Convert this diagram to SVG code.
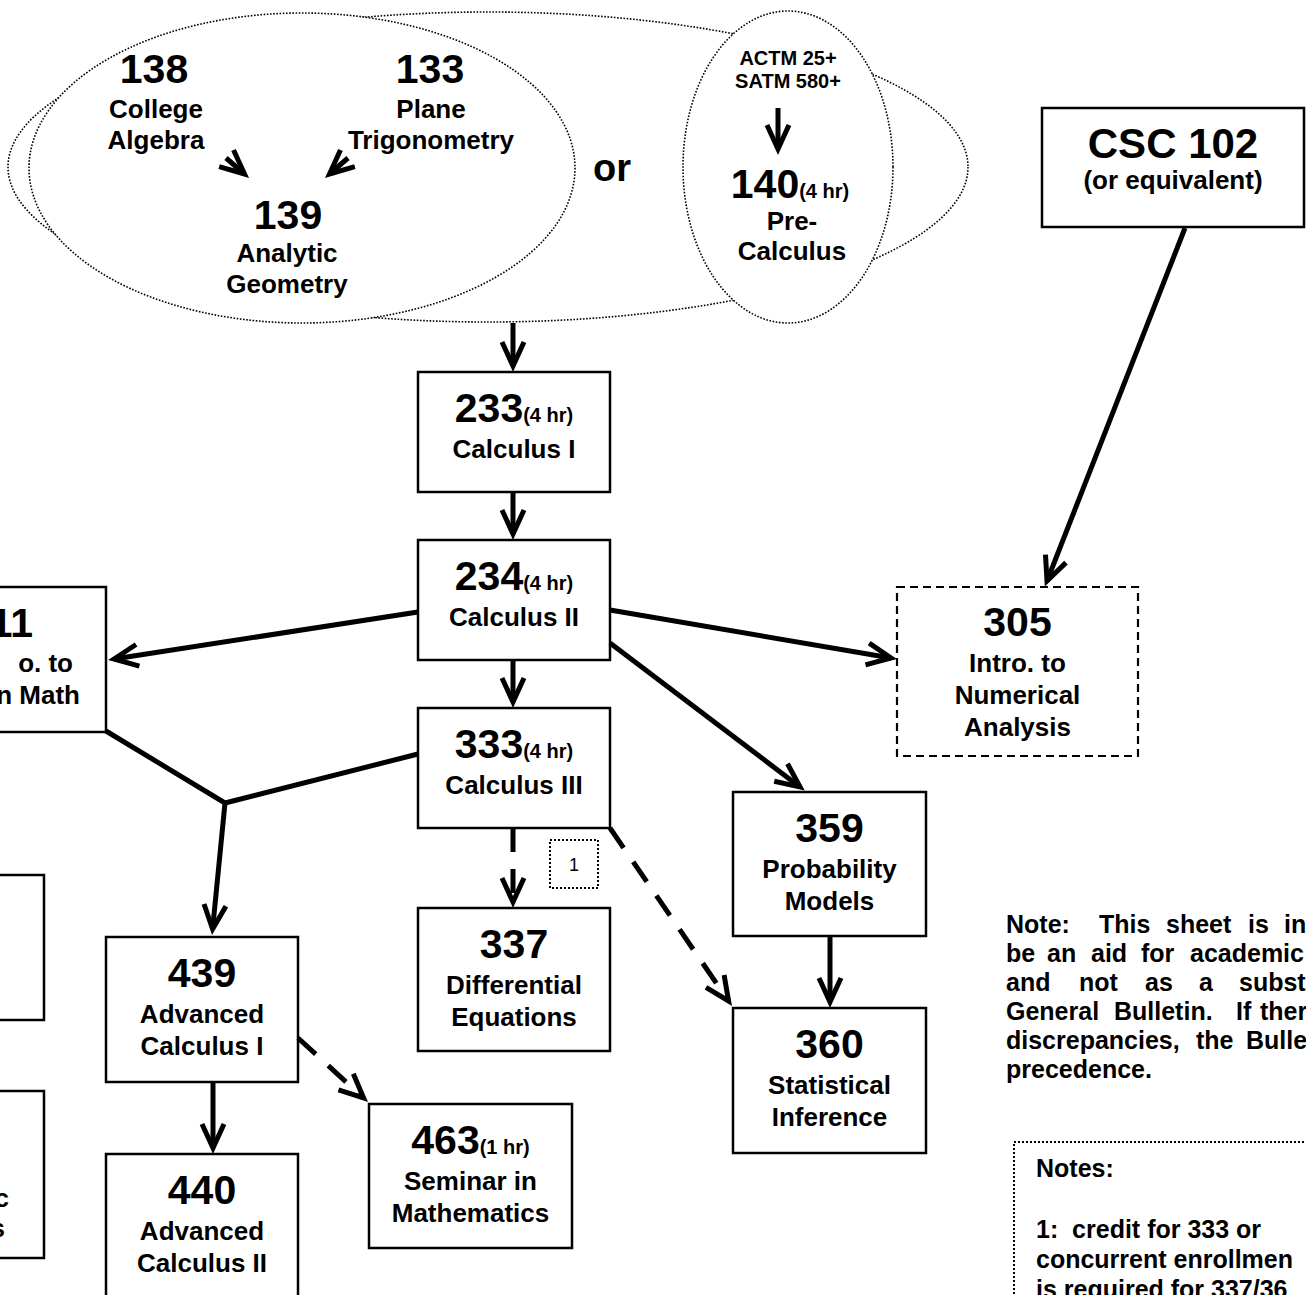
<svg xmlns="http://www.w3.org/2000/svg" width="1306" height="1295" viewBox="0 0 1306 1295">
<style>
.box{fill:#fff;stroke:#000;stroke-width:2.5}
.dbox{fill:#fff;stroke:#000;stroke-width:2.2;stroke-dasharray:8 5}
.dot{fill:none;stroke:#000;stroke-width:2;stroke-dasharray:2 2}
.ell{stroke:#000;stroke-width:1.6;stroke-dasharray:1.6 1.6}
.con{fill:none;stroke:#000;stroke-width:5}
.dash{stroke-dasharray:24 17}
text{font-family:"Liberation Sans",Arial,sans-serif;font-weight:bold;fill:#000}
.c{text-anchor:middle}
.n{font-size:41px}
.h{font-size:20px}
.l{font-size:26px}
.s{font-size:20px}
.nt{font-size:25px;white-space:pre}
</style>
<defs>
<marker id="ah" markerUnits="userSpaceOnUse" orient="auto" refX="0" refY="0" markerWidth="40" markerHeight="40" overflow="visible">
<path d="M-24,-11 L0,0 L-24,11" fill="none" stroke="#000" stroke-width="5" stroke-linejoin="miter" stroke-dasharray="none"/>
</marker>
</defs>
<rect width="1306" height="1295" fill="#fff"/>

<g id="prereq-group">
<ellipse class="ell" cx="488" cy="167" rx="480" ry="155" fill="none"/>
<ellipse class="ell" cx="302" cy="168" rx="273" ry="155" fill="#fff"/>
<ellipse class="ell" cx="788" cy="167" rx="105" ry="156" fill="#fff"/>
</g>

<g id="n138"><text class="c n" x="154" y="83">138</text><text class="c l" x="156" y="118">College</text><text class="c l" x="156" y="149">Algebra</text></g>
<g id="n133"><text class="c n" x="430" y="83">133</text><text class="c l" x="431" y="118">Plane</text><text class="c l" x="431" y="149">Trigonometry</text></g>
<g id="n139"><text class="c n" x="288" y="229">139</text><text class="c l" x="287" y="262">Analytic</text><text class="c l" x="287" y="293">Geometry</text></g>
<g id="or"><text class="c" style="font-size:38px" x="612" y="181">or</text></g>
<g id="n140"><text class="c s" x="788" y="65">ACTM 25+</text><text class="c s" x="788" y="88">SATM 580+</text>
<text class="c" x="790" y="198"><tspan class="n">140</tspan><tspan class="h">(4 hr)</tspan></text>
<text class="c l" x="792" y="230">Pre-</text><text class="c l" x="792" y="260">Calculus</text></g>

<g id="n233"><rect class="box" x="418" y="372" width="192" height="120"/><text class="c" x="514" y="422"><tspan class="n">233</tspan><tspan class="h">(4 hr)</tspan></text><text class="c l" x="514" y="458">Calculus I</text></g>
<g id="n234"><rect class="box" x="418" y="540" width="192" height="120"/><text class="c" x="514" y="590"><tspan class="n">234</tspan><tspan class="h">(4 hr)</tspan></text><text class="c l" x="514" y="626">Calculus II</text></g>
<g id="n333"><rect class="box" x="418" y="708" width="192" height="120"/><text class="c" x="514" y="758"><tspan class="n">333</tspan><tspan class="h">(4 hr)</tspan></text><text class="c l" x="514" y="794">Calculus III</text></g>
<g id="n337"><rect class="box" x="418" y="908" width="192" height="143"/><text class="c n" x="514" y="958">337</text><text class="c l" x="514" y="994">Differential</text><text class="c l" x="514" y="1026">Equations</text></g>
<g id="n359"><rect class="box" x="733" y="792" width="193" height="144"/><text class="c n" x="829.5" y="842">359</text><text class="c l" x="829.5" y="878">Probability</text><text class="c l" x="829.5" y="910">Models</text></g>
<g id="n360"><rect class="box" x="733" y="1008" width="193" height="145"/><text class="c n" x="829.5" y="1058">360</text><text class="c l" x="829.5" y="1094">Statistical</text><text class="c l" x="829.5" y="1126">Inference</text></g>
<g id="n305"><rect class="dbox" x="897" y="587" width="241" height="169"/><text class="c n" x="1017.5" y="636">305</text><text class="c l" x="1017.5" y="672">Intro. to</text><text class="c l" x="1017.5" y="704">Numerical</text><text class="c l" x="1017.5" y="736">Analysis</text></g>
<g id="n439"><rect class="box" x="106" y="937" width="192" height="145"/><text class="c n" x="202" y="987">439</text><text class="c l" x="202" y="1023">Advanced</text><text class="c l" x="202" y="1055">Calculus I</text></g>
<g id="n440"><rect class="box" x="106" y="1154" width="192" height="170"/><text class="c n" x="202" y="1204">440</text><text class="c l" x="202" y="1240">Advanced</text><text class="c l" x="202" y="1272">Calculus II</text></g>
<g id="n463"><rect class="box" x="369" y="1104" width="203" height="144"/><text class="c" x="470.5" y="1154"><tspan class="n">463</tspan><tspan class="h">(1 hr)</tspan></text><text class="c l" x="470.5" y="1190">Seminar in</text><text class="c l" x="470.5" y="1222">Mathematics</text></g>
<g id="csc102"><rect class="box" x="1042" y="108" width="262" height="119"/><text class="c" style="font-size:42px" x="1173" y="158">CSC 102</text><text class="c l" x="1173" y="189">(or equivalent)</text></g>
<g id="n311"><rect class="box" x="-100" y="587" width="206" height="145"/><text class="n" text-anchor="end" x="33" y="637">11</text><text class="l" text-anchor="end" x="73" y="672">o. to</text><text class="l" text-anchor="end" x="80" y="704">n Math</text></g>
<g id="left-a"><rect class="box" x="-10" y="875" width="54" height="145"/></g>
<g id="left-b"><rect class="box" x="-10" y="1091" width="54" height="167"/><text class="l" text-anchor="end" x="9" y="1207">c</text><text class="l" text-anchor="end" x="5" y="1237">s</text></g>
<g id="fn1"><rect class="dot" x="550" y="840" width="48" height="48"/><text style="font-size:18px;font-weight:normal" class="c" x="574" y="871">1</text></g>

<g id="connectors">
<line class="con" x1="226" y1="158" x2="244.5" y2="174" marker-end="url(#ah)"/>
<line class="con" x1="348" y1="158" x2="329.5" y2="174" marker-end="url(#ah)"/>
<line class="con" x1="778" y1="108" x2="778" y2="149" marker-end="url(#ah)"/>
<line class="con" x1="513" y1="323" x2="513" y2="366" marker-end="url(#ah)"/>
<line class="con" x1="513" y1="492" x2="513" y2="534" marker-end="url(#ah)"/>
<line class="con" x1="513" y1="660" x2="513" y2="702" marker-end="url(#ah)"/>
<line class="con" x1="418" y1="612" x2="114" y2="659" marker-end="url(#ah)"/>
<line class="con" x1="610" y1="610" x2="891" y2="658" marker-end="url(#ah)"/>
<line class="con" x1="610" y1="643" x2="800" y2="787" marker-end="url(#ah)"/>
<polyline class="con" points="106,731 225,803 418,754"/>
<line class="con" x1="225" y1="803" x2="212.6" y2="929" marker-end="url(#ah)"/>
<line class="con dash" x1="513" y1="828" x2="513" y2="902" marker-end="url(#ah)"/>
<line class="con dash" x1="610" y1="828" x2="728.6" y2="1001" marker-end="url(#ah)"/>
<line class="con" x1="830" y1="936" x2="830" y2="1002" marker-end="url(#ah)"/>
<line class="con" x1="213" y1="1082" x2="213" y2="1148" marker-end="url(#ah)"/>
<line class="con dash" x1="298" y1="1038" x2="363.6" y2="1098" marker-end="url(#ah)"/>
<line class="con" x1="1185" y1="228" x2="1047" y2="581" marker-end="url(#ah)"/>
</g>

<g id="note">
<text class="nt" y="933"><tspan x="1006">Note:</tspan><tspan x="1099">This</tspan><tspan x="1166">sheet</tspan><tspan x="1248">is</tspan><tspan x="1284">in</tspan></text>
<text class="nt" y="962"><tspan x="1006">be</tspan><tspan x="1047">an</tspan><tspan x="1091">aid</tspan><tspan x="1141">for</tspan><tspan x="1190">academic</tspan></text>
<text class="nt" y="991"><tspan x="1006">and</tspan><tspan x="1079">not</tspan><tspan x="1145">as</tspan><tspan x="1199">a</tspan><tspan x="1239">subst</tspan></text>
<text class="nt" y="1020"><tspan x="1006">General</tspan><tspan x="1114">Bulletin.</tspan><tspan x="1236">If</tspan><tspan x="1260">ther</tspan></text>
<text class="nt" y="1049"><tspan x="1006">discrepancies,</tspan><tspan x="1196">the</tspan><tspan x="1246">Bulle</tspan></text>
<text class="nt" x="1006" y="1078">precedence.</text>
</g>

<g id="notes-box">
<rect class="dot" x="1014" y="1142" width="300" height="200"/>
<text class="nt" x="1036" y="1177">Notes:</text>
<text class="nt" x="1036" y="1238">1:  credit for 333 or</text>
<text class="nt" x="1036" y="1268">concurrent enrollmen</text>
<text class="nt" x="1036" y="1298">is required for 337/36</text>
</g>
</svg>
